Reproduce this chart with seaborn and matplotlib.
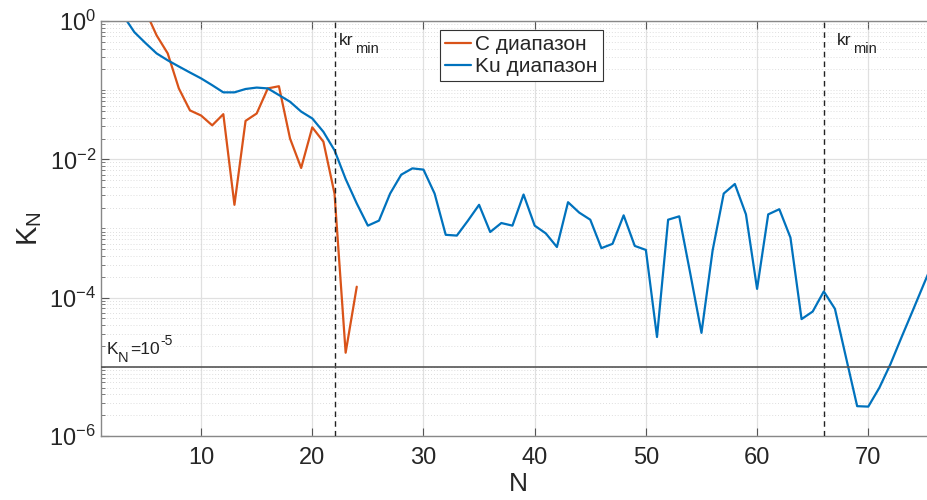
import numpy as np
import pandas as pd
import matplotlib
matplotlib.use("Agg")
import matplotlib.pyplot as plt
import matplotlib.ticker as mticker
from matplotlib.lines import Line2D
import seaborn as sns

# ---- data ----
n_ku = list(range(3, 77))
k_ku = [1.2, 0.69, 0.48, 0.34, 0.27, 0.22, 0.18, 0.148, 0.118, 0.093,
        0.093, 0.104, 0.109, 0.106, 0.085, 0.068, 0.049, 0.039, 0.025, 0.0135,
        0.0052, 0.0023, 0.0011, 0.0013, 0.0032, 0.006, 0.0074, 0.0071, 0.0032, 0.00081,
        0.00079, 0.0013, 0.0022, 0.00089, 0.0012, 0.0011, 0.0031, 0.0011, 0.00085, 0.00054,
        0.0024, 0.0017, 0.00134, 0.00052, 0.0006, 0.00155, 0.00056, 0.00049, 2.7e-5, 0.00134,
        0.0015, 2.2e-4, 3.1e-5, 4.8e-4, 0.0032, 0.0044, 0.0016, 1.34e-4, 0.0016, 0.0019,
        0.00074, 4.9e-5, 6.3e-5, 1.23e-4, 6.9e-5, 1.36e-5, 2.7e-6, 2.66e-6, 5.0e-6, 1.1e-5,
        2.7e-5, 6.5e-5, 1.58e-4, 3.8e-4]
n_c = list(range(5, 25))
k_c = [1.4, 0.62, 0.34, 0.106, 0.051, 0.043, 0.031, 0.045, 0.0022, 0.036,
       0.046, 0.106, 0.114, 0.020, 0.0075, 0.029, 0.018, 0.0032, 1.6e-5, 1.44e-4]
kr_min = [22, 66]
k_threshold = 1e-5
series_names = ["С диапазон", "Ku диапазон"]

df = pd.concat([
    pd.DataFrame({"N": n_c, "K": k_c, "band": series_names[0]}),
    pd.DataFrame({"N": n_ku, "K": k_ku, "band": series_names[1]}),
])

# ---- style ----
sns.set_style("white")
plt.rcParams["font.family"] = ["Liberation Sans", "DejaVu Sans"]
plt.rcParams["mathtext.fontset"] = "custom"
plt.rcParams["mathtext.rm"] = "Liberation Sans"
plt.rcParams["mathtext.it"] = "Liberation Sans"
plt.rcParams["mathtext.default"] = "regular"

fig = plt.figure(figsize=(9.28, 5.0), dpi=100)
ax = fig.add_axes([101 / 928, 64 / 500, 834 / 928, 415 / 500])

palette = {series_names[0]: "#D95319", series_names[1]: "#0072BD"}
sns.lineplot(data=df, x="N", y="K", hue="band", palette=palette,
             linewidth=1.6, ax=ax, legend=False, sort=False, estimator=None)

ax.set_yscale("log")
ax.set_xlim(1, 76)
ax.set_ylim(1e-6, 1)

# reference lines
for x in kr_min:
    ax.axvline(x, color="#222222", linestyle=(0, (4, 3)), linewidth=1.0, zorder=3)
ax.axhline(k_threshold, color="#555555", linewidth=1.2, zorder=3)

txt_col = "#222222"
for xt in (22.4, 67.15):
    ax.text(xt, 0.45, "kr", fontsize=12.5, color=txt_col, va="baseline")
    ax.annotate("min", xy=(xt, 0.45), xytext=(11.5, -5.8), textcoords="offset points",
                fontsize=10.5, color=txt_col, va="baseline")
# K_N = 10^-5 label
kx, ky = 1.55, 1.55e-5
ax.text(kx, ky, "K", fontsize=12.5, color=txt_col, va="baseline")
ax.annotate("N", xy=(kx, ky), xytext=(8.0, -6.0), textcoords="offset points",
            fontsize=10.5, color=txt_col, va="baseline")
ax.annotate("=10", xy=(kx, ky), xytext=(16.5, 0), textcoords="offset points",
            fontsize=12.5, color=txt_col, va="baseline")
ax.annotate("-5", xy=(kx, ky), xytext=(38.0, 6.0), textcoords="offset points",
            fontsize=10, color=txt_col, va="baseline")

# ticks
ax.xaxis.set_major_locator(mticker.FixedLocator([10, 20, 30, 40, 50, 60, 70]))
ax.yaxis.set_major_locator(mticker.FixedLocator([1, 1e-2, 1e-4, 1e-6]))
minors = []
for e in range(-6, 0):
    for k in range(1, 10):
        v = k * 10.0 ** e
        if not (k == 1 and e % 2 == 0):
            minors.append(v)
ax.yaxis.set_minor_locator(mticker.FixedLocator(minors))
ax.yaxis.set_minor_formatter(mticker.NullFormatter())
ax.xaxis.set_minor_locator(mticker.NullLocator())

ax.tick_params(axis="both", which="major", direction="in", length=6, width=0.8,
               colors="#555555", labelcolor="#262626", labelsize=17, top=True, bottom=True,
               left=True, right=False)
ax.tick_params(axis="y", which="minor", direction="in", length=3, width=0.6,
               colors="#666666", left=True, right=False)
ax.tick_params(axis="x", which="major", pad=8)

ax.grid(True, which="major", color="#e0e0e0", linewidth=0.9, linestyle="-")
ax.grid(True, which="minor", axis="y", color="#d4d4d4", linewidth=0.6, linestyle=(0, (1, 2.5)))

for side in ["left", "bottom", "top"]:
    ax.spines[side].set_color("#888888")
    ax.spines[side].set_linewidth(1.0)
ax.spines["right"].set_visible(False)

ax.set_xlabel("N", fontsize=19, color="#262626", labelpad=2)
ax.set_ylabel(r"$\mathregular{K_N}$", fontsize=21, color="#262626", labelpad=4)

# legend
handles = [Line2D([], [], color=palette[s], linewidth=1.6) for s in series_names]
leg = ax.legend(handles, series_names, loc="upper left", bbox_to_anchor=(0.4065, 0.978),
                fontsize=15, frameon=True, fancybox=False, handlelength=1.25,
                handletextpad=0.2, borderpad=0.25, labelspacing=0.12, borderaxespad=0)
leg.get_frame().set_edgecolor("#333333")
leg.get_frame().set_linewidth(0.8)
leg.get_frame().set_alpha(1)

fig.savefig("out.png", dpi=100)
